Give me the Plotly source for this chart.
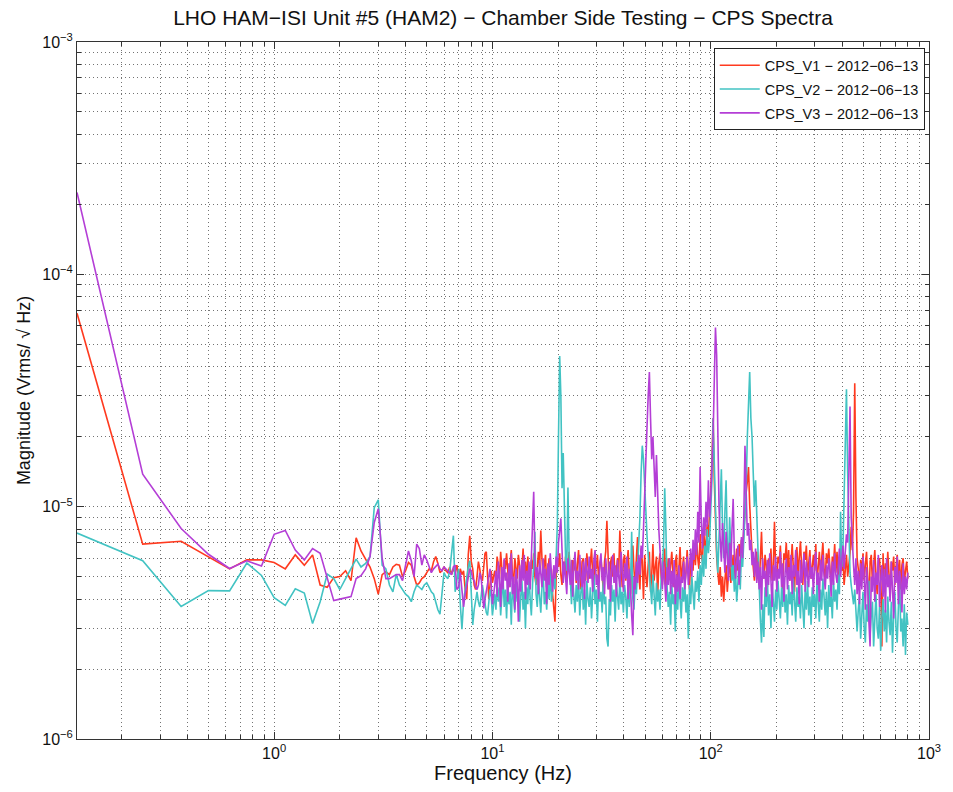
import numpy as np
import plotly.graph_objects as go

# ---------------------------------------------------------------------------
# CPS amplitude spectral densities, in micro-Vrms/sqrt(Hz)
# Low band: every 0.125 Hz bin from 0.125 Hz to 10 Hz
# High band: log-spaced samples from 10.25 Hz to 800 Hz
# ---------------------------------------------------------------------------
BIN_HZ = 0.125
HIGH_START_HZ = 10.25
HIGH_STOP_HZ = 800.0

series_names = ["CPS_V1 - 2012-06-13", "CPS_V2 - 2012-06-13", "CPS_V3 - 2012-06-13"]

v1_low = [
    68, 6.9, 7.1, 6.1, 5.4, 5.9, 5.9, 5.75, 5.4, 6.2,
    5.6, 6.2, 4.6, 4.5, 4.95, 5.0, 5.3, 4.8, 7.35, 6.45,
    5.9, 5.5, 4.9, 4.2,
    5.1, 5.25, 5.1, 5.5, 5.65, 5.6, 5.0, 5.3, 5.75, 5.6,
    5.0, 4.6, 4.7, 4.9, 5.0, 5.2, 5.4, 5.3, 5.8, 6.1,
    5.7, 5.2, 5.3, 5.5, 5.3, 5.2, 5.5, 5.1, 5.4, 5.2,
    5.6, 4.9, 5.4, 5.1, 5.3, 4.4, 4.0, 6.2, 7.5, 5.8,
    5.4, 4.6, 4.4, 5.0, 5.8, 5.4, 4.9, 4.8, 5.6, 6.3,
    6.4, 5.2, 4.0, 4.6, 5.3, 4.7,
]

v2_low = [
    7.7, 5.85, 3.72, 4.35, 4.34, 5.72, 5.06, 4.06, 3.76, 4.43,
    4.25, 3.14, 3.9, 5.13, 4.9, 4.4, 4.9, 5.4, 5.95, 5.5,
    5.7, 6.1, 9.9, 10.7,
    5.6, 5.4, 4.6, 4.3, 5.1, 4.6, 4.4, 4.2, 4.1, 3.9,
    4.3, 4.6, 4.5, 4.4, 4.6, 4.7, 4.5, 4.3, 4.2, 3.9,
    3.6, 3.45, 4.2, 5.2, 5.0, 4.9, 5.3, 6.5, 7.5, 4.3,
    4.8, 5.4, 3.8, 2.97, 3.9, 4.4, 4.9, 5.5, 5.85, 4.2,
    3.1, 3.6, 4.0, 4.3, 3.9, 3.7, 4.1, 4.6, 4.2, 3.7,
    3.5, 3.4, 3.9, 4.4, 4.1, 3.4,
]

v3_low = [
    225, 13.8, 8.05, 6.24, 5.42, 5.85, 5.55, 7.6, 7.9, 6.5,
    5.9, 6.6, 6.3, 4.9, 3.94, 4.0, 4.05, 4.1, 4.9, 5.05,
    5.4, 6.1, 8.55, 9.8,
    6.0, 4.9, 4.9, 5.0, 5.1, 5.1, 4.8, 5.6, 6.45, 5.85,
    5.0, 6.9, 6.6, 5.6, 6.2, 5.9, 5.5, 5.2, 5.4, 5.5,
    5.65, 5.4, 5.3, 5.5, 5.4, 5.3, 5.2, 5.1, 5.5, 5.6,
    4.4, 4.5, 5.2, 4.4, 3.7, 4.2, 4.6, 5.0, 5.4, 5.3,
    4.9, 4.8, 4.5, 4.4, 4.6, 5.2, 5.0, 4.2, 3.65, 4.0,
    4.3, 4.5, 5.0, 5.4, 4.6, 3.8,
]

v1_high = [
    5.3, 4.8, 6.1, 5.6, 4.9, 6.4, 5.2, 4.6, 5.9, 5.4,
    6.3, 5.0, 4.5, 5.7, 6.5, 5.1, 4.7, 6.0, 5.5, 4.9,
    6.2, 5.6, 4.4, 5.3, 6.6, 5.0, 5.8, 4.8, 6.1, 5.2,
    4.7, 5.9, 5.4, 6.3, 5.0, 4.6, 5.7, 6.4, 5.5, 7.9,
    6.0, 4.9, 5.6, 6.2, 4.5, 5.3, 6.0, 4.7, 5.4, 4.2,
    3.6, 3.2, 5.0, 6.0, 5.5, 6.3, 5.1, 4.6, 5.8, 5.2,
    6.1, 4.8, 5.5, 6.4, 5.0, 4.5, 5.9, 5.3, 6.2, 4.7,
    5.6, 6.5, 5.1, 4.4, 5.8, 6.0, 5.2, 4.8, 6.3, 5.5,
    4.9, 5.7, 6.6, 5.0, 4.6, 5.9, 5.4, 6.2, 4.8, 5.6,
    6.0, 5.1, 4.3, 5.8, 6.4, 8.7, 5.5, 4.4, 5.7, 6.1,
    5.0, 6.3, 4.7, 5.4, 6.0, 5.2, 7.9, 5.6, 4.5, 5.9,
    6.2, 4.8, 5.5, 6.5, 5.1, 4.2, 5.7, 6.8, 5.3, 4.6,
    6.0, 7.4, 5.2, 4.4, 6.6, 5.8, 4.0, 6.2, 5.0, 4.5,
    5.6, 6.4, 4.3, 5.1, 6.9, 4.8, 5.5, 6.1, 4.1, 5.7,
    6.3, 5.0, 4.6, 5.9, 6.6, 4.4, 5.3, 6.0, 4.9, 5.6,
    6.4, 5.1, 4.5, 5.8, 6.2, 4.3, 5.4, 6.7, 4.8, 5.5,
    6.1, 4.6, 5.2, 6.5, 5.0, 4.4, 5.9, 6.3, 5.3, 6.8,
    5.6, 7.2, 6.0, 5.4, 7.6, 6.2, 5.8, 8.0, 6.6, 7.1,
    8.4, 7.4, 9.5, 11.5, 16.0, 24.0, 13.0, 8.0, 6.1, 5.2,
    4.6, 5.5, 4.1, 5.0, 3.9, 4.8, 5.6, 4.3, 5.2, 6.0,
    4.7, 5.4, 6.2, 5.0, 5.8, 6.6, 5.3, 6.9, 6.1, 7.2,
    6.4, 8.2, 9.6, 11.5, 12.8, 14.8, 10.2, 7.6, 6.3, 5.5,
    4.8, 5.7, 6.4, 5.1, 4.6, 5.9, 7.8, 5.4, 4.9, 6.2,
    5.6, 4.5, 6.0, 5.2, 6.6, 4.8, 5.5, 8.6, 5.3, 4.7,
    6.1, 5.7, 6.8, 5.0, 4.4, 6.3, 5.9, 7.0, 5.2, 6.5,
    4.8, 5.6, 6.9, 5.4, 4.3, 6.2, 6.7, 5.1, 5.8, 7.1,
    5.5, 4.6, 6.4, 5.9, 6.8, 5.0, 5.7, 6.5, 4.9, 5.6,
    6.2, 5.3, 6.9, 4.7, 5.8, 6.4, 5.1, 6.0, 7.0, 5.4,
    4.8, 6.3, 5.7, 6.6, 5.0, 4.4, 6.1, 5.5, 6.9, 5.2,
    6.4, 4.9, 5.8, 6.6, 5.3, 6.0, 4.6, 5.5, 6.2, 5.0,
    5.7, 6.3, 8.2, 6.5, 9.5, 34.0, 11.0, 6.0, 5.4, 4.6,
    5.9, 5.2, 6.3, 4.8, 5.6, 6.4, 5.0, 3.4, 5.8, 6.2,
    4.7, 5.5, 6.5, 5.1, 4.2, 5.9, 6.0, 4.8, 2.5, 6.3,
    4.5, 5.7, 5.0, 6.4, 4.9, 4.1, 5.8, 5.3, 6.1, 4.6,
    5.5, 6.2, 4.8, 5.9, 4.4, 5.6, 6.0, 4.7, 5.3, 5.8,
    4.9,
]

v2_high = [
    4.2, 3.6, 4.8, 3.9, 4.5, 3.4, 4.1, 5.0, 3.7, 4.4,
    3.3, 4.6, 3.8, 4.3, 3.1, 4.7, 4.0, 3.5, 4.9, 3.9,
    4.4, 3.2, 4.1, 4.8, 3.6, 4.3, 3.0, 4.5, 3.8, 5.1,
    4.0, 3.4, 4.6, 5.6, 7.8, 4.2, 3.7, 4.9, 4.1, 3.5,
    4.5, 5.2, 3.8, 4.3, 3.6, 4.8, 4.0, 5.4, 3.9, 4.6,
    5.0, 4.4, 6.0, 8.3, 20.0, 44.5, 30.0, 12.0, 17.0, 9.0,
    6.0, 5.3, 12.1, 6.2, 4.5, 3.8, 4.9, 4.2, 3.5, 4.6,
    3.9, 5.0, 3.4, 4.3, 4.7, 3.6, 4.4, 3.1, 4.8, 4.0,
    3.7, 4.5, 3.3, 4.2, 5.1, 3.8, 4.4, 3.2, 4.6, 3.9,
    4.3, 3.5, 4.9, 3.8, 4.1, 2.7, 2.5, 4.0, 3.4, 4.6,
    3.9, 4.4, 3.2, 4.7, 4.0, 3.6, 5.0, 3.8, 4.3, 3.5,
    4.6, 4.1, 3.3, 4.8, 3.7, 4.4, 7.8, 4.0, 3.6, 4.9,
    4.2, 5.2, 6.4, 9.0, 14.0, 18.3, 16.0, 12.0, 9.0, 7.5,
    6.2, 5.4, 4.6, 3.8, 5.1, 4.2, 3.4, 4.7, 3.9, 4.4,
    3.6, 4.9, 5.5, 6.8, 12.0, 8.0, 4.5, 3.7, 4.3, 3.1,
    4.6, 3.8, 4.2, 2.9, 4.4, 3.6, 4.8, 4.0, 3.3, 4.5,
    3.9, 4.7, 3.5, 4.2, 2.7, 4.6, 3.8, 5.0, 4.1, 3.6,
    4.8, 4.3, 5.3, 3.9, 5.6, 4.6, 6.2, 5.0, 6.8, 5.4,
    8.0, 6.3, 7.2, 10.0, 13.0, 24.0, 14.0, 9.0, 6.5, 5.2,
    7.5, 10.5, 14.5, 8.0, 6.0, 9.5, 13.0, 7.0, 5.5, 9.0,
    6.2, 4.8, 5.6, 4.3, 5.2, 3.9, 4.7, 5.9, 4.4, 6.3,
    5.5, 7.2, 9.0, 12.0, 20.0, 28.0, 38.0, 24.0, 20.0, 14.0,
    10.0, 13.0, 9.0, 5.8, 4.2, 3.3, 2.6, 3.8, 2.75, 4.5,
    3.7, 4.9, 3.4, 4.2, 3.0, 4.6, 3.9, 3.2, 4.4, 3.6,
    4.8, 4.0, 3.3, 4.5, 3.7, 5.0, 3.5, 4.2, 3.1, 4.6,
    3.8, 4.3, 3.4, 4.9, 4.0, 3.2, 4.5, 3.7, 4.1, 3.3,
    4.6, 3.9, 3.0, 4.4, 3.6, 4.8, 3.4, 4.1, 3.1, 4.5,
    3.7, 4.2, 3.3, 4.7, 3.9, 3.2, 4.4, 3.6, 4.9, 3.8,
    3.4, 4.3, 3.0, 4.6, 3.7, 4.1, 3.3, 4.8, 3.9, 4.4,
    3.6, 5.1, 4.2, 9.5, 5.5, 6.5, 12.0, 22.0, 32.0, 14.0,
    7.0, 5.2, 4.6, 4.0, 3.8, 4.4, 3.3, 2.9, 3.6, 4.1,
    2.7, 3.5, 4.3, 3.0, 2.6, 3.8, 3.2, 4.8, 2.8, 3.4,
    3.9, 2.5, 3.6, 4.2, 3.0, 2.7, 3.7, 2.4, 3.3, 4.0,
    2.9, 3.6, 2.6, 4.1, 3.2, 2.8, 3.9, 2.35, 3.4, 4.3,
    3.0, 2.6, 3.7, 5.0, 2.9, 3.3, 2.5, 3.8, 2.3, 3.5,
    3.1,
]

v3_high = [
    4.6, 5.3, 4.1, 5.8, 4.9, 3.7, 5.5, 4.4, 6.0, 4.8,
    5.2, 3.9, 5.7, 4.5, 6.3, 4.2, 5.0, 3.6, 5.4, 4.7,
    3.2, 5.6, 4.3, 5.9, 4.8, 6.2, 4.0, 5.3, 4.6, 5.8,
    4.4, 6.1, 7.0, 11.6, 6.0, 4.9, 5.5, 4.2, 5.9, 5.1,
    4.5, 6.0, 4.8, 5.4, 3.8, 5.7, 4.6, 6.3, 5.0, 4.3,
    5.6, 4.9, 6.1, 5.2, 7.0, 8.0, 8.9, 6.5, 4.7, 5.8,
    5.0, 4.2, 6.0, 5.4, 4.6, 5.9, 4.1, 5.5, 6.4, 4.8,
    5.3, 4.4, 6.2, 5.0, 4.5, 5.8, 4.0, 6.0, 5.2, 4.7,
    6.1, 4.9, 5.4, 4.3, 5.9, 6.5, 4.6, 5.1, 4.0, 5.7,
    6.3, 4.8, 5.5, 4.2, 6.0, 5.0, 4.4, 5.8, 3.9, 5.3,
    6.2, 4.7, 5.6, 4.1, 5.9, 5.0, 4.5, 6.4, 5.2, 4.3,
    5.7, 4.9, 6.1, 4.0, 5.4, 4.6, 3.4, 2.8, 5.0, 4.4,
    5.8, 4.7, 6.2, 5.1, 6.8, 6.0, 8.0, 12.0, 14.0, 22.0,
    30.0, 38.0, 24.0, 16.0, 20.0, 13.0, 11.0, 16.7, 10.0, 8.0,
    6.5, 5.2, 4.4, 5.8, 4.8, 3.9, 5.5, 4.6, 6.0, 4.2,
    5.3, 4.5, 5.9, 3.8, 5.1, 4.3, 5.6, 4.0, 5.0, 4.7,
    5.8, 4.4, 5.2, 6.1, 4.6, 5.5, 6.6, 5.0, 7.2, 5.9,
    8.0, 6.2, 9.5, 7.0, 14.8, 8.5, 6.6, 9.0, 7.5, 10.5,
    8.2, 13.0, 9.0, 11.0, 14.0, 20.0, 35.0, 59.0, 45.0, 18.0,
    10.0, 7.2, 5.8, 8.5, 6.4, 5.2, 7.8, 6.0, 4.8, 7.0,
    5.5, 8.0, 10.8, 6.2, 4.9, 5.7, 6.8, 4.6, 5.9, 7.4,
    6.0, 9.0, 18.3, 10.0, 7.5, 8.5, 6.5, 7.2, 5.6, 6.4,
    5.0, 6.6, 4.7, 5.8, 4.4, 5.5, 3.6, 6.0, 4.9, 5.3,
    4.1, 5.9, 4.6, 6.3, 5.0, 3.7, 5.6, 4.8, 6.1, 4.3,
    5.4, 4.9, 6.4, 4.5, 5.7, 3.9, 5.2, 6.0, 4.4, 5.5,
    4.8, 6.2, 4.2, 5.6, 5.0, 6.5, 4.6, 5.3, 3.8, 5.9,
    4.7, 5.4, 6.3, 4.3, 5.8, 5.0, 4.5, 6.1, 4.9, 5.5,
    4.2, 5.7, 6.4, 4.6, 5.2, 3.9, 5.9, 4.8, 6.2, 5.0,
    4.4, 5.6, 4.9, 6.0, 5.3, 4.1, 5.8, 4.6, 6.3, 5.1,
    4.7, 5.5, 6.6, 5.0, 5.9, 6.8, 5.4, 6.2, 7.6, 7.0,
    12.0, 27.0, 9.0, 6.4, 5.6, 4.6, 6.0, 4.2, 5.3, 3.8,
    5.7, 4.4, 6.1, 4.9, 3.6, 5.5, 4.7, 3.2, 2.5, 5.0,
    4.3, 5.9, 3.9, 5.2, 4.6, 6.2, 3.7, 4.8, 5.6, 4.1,
    5.4, 3.5, 6.0, 4.5, 5.1, 3.9, 5.8, 4.4, 3.3, 5.5,
    4.7, 6.1, 3.8, 5.3, 4.9, 3.5, 5.7, 4.2, 5.0, 4.4,
    5.2,
]

line_colors = ["#ff3a1f", "#42c3c3", "#b43ed6"]

x_tick_vals = [1, 10, 100, 1000]
x_tick_text = ["10<sup>0</sup>", "10<sup>1</sup>", "10<sup>2</sup>", "10<sup>3</sup>"]
y_tick_vals = [1e-6, 1e-5, 1e-4, 1e-3]
y_tick_text = ["10<sup>\u22126</sup>", "10<sup>\u22125</sup>",
               "10<sup>\u22124</sup>", "10<sup>\u22123</sup>"]

# ---------------------------------------------------------------------------
FONT = "Liberation Sans, Arial, Helvetica, sans-serif"


def spectrum(low, high):
    f_low = BIN_HZ * np.arange(1, len(low) + 1)
    f_high = np.geomspace(HIGH_START_HZ, HIGH_STOP_HZ, len(high))
    freq = np.concatenate([f_low, f_high])
    amp = np.concatenate([np.asarray(low, float), np.asarray(high, float)]) * 1e-6
    return freq, amp


def minor_positions(first_decade, last_decade, lo, hi):
    vals = []
    for d in range(first_decade, last_decade + 1):
        for m in range(2, 10):
            v = m * 10.0 ** d
            if lo <= v <= hi:
                vals.append(v)
    return vals


fig = go.Figure()
for name, low, high, color in zip(series_names,
                                  [v1_low, v2_low, v3_low],
                                  [v1_high, v2_high, v3_high],
                                  line_colors):
    freq, amp = spectrum(low, high)
    fig.add_trace(go.Scatter(
        x=freq, y=amp, mode="lines", name=name.replace("-", "\u2212"),
        legendgroup=name,
        line=dict(color=color, width=1.6),
    ))

x_min, x_max = BIN_HZ, 1000.0
y_min, y_max = 1e-6, 1e-3

# sparse dotted grid on both major and minor positions
grid_style = dict(showgrid=True, gridcolor="rgba(0,0,0,0.55)", gridwidth=1, griddash="1px,3px")

fig.update_xaxes(
    type="log", range=[np.log10(x_min), np.log10(x_max)],
    tickmode="array", tickvals=x_tick_vals, ticktext=x_tick_text,
    ticks="inside", ticklen=7, tickcolor="#333", tickwidth=1,
    showline=True, linecolor="#333", linewidth=1, mirror="ticks",
    zeroline=False,
    tickfont=dict(family=FONT, size=16, color="#111"),
    title=dict(text="Frequency (Hz)", font=dict(family=FONT, size=20, color="#111"), standoff=4),
    minor=dict(tickvals=minor_positions(-1, 2, x_min, x_max), ticks="inside", ticklen=4,
               tickcolor="#333", **grid_style),
    **grid_style,
)
fig.update_yaxes(
    type="log", range=[np.log10(y_min), np.log10(y_max)],
    tickmode="array", tickvals=y_tick_vals, ticktext=y_tick_text,
    ticks="inside", ticklen=7, tickcolor="#333", tickwidth=1,
    showline=True, linecolor="#333", linewidth=1, mirror="ticks",
    zeroline=False,
    tickfont=dict(family=FONT, size=16, color="#111"),
    title=dict(text="Magnitude (Vrms/ \u221a Hz)", font=dict(family=FONT, size=18, color="#111"), standoff=6),
    minor=dict(tickvals=minor_positions(-6, -4, y_min, y_max), ticks="inside", ticklen=4,
               tickcolor="#333", **grid_style),
    **grid_style,
)

fig.update_layout(
    width=953, height=792,
    margin=dict(l=77, r=17, t=42, b=52),
    paper_bgcolor="white", plot_bgcolor="white",
    font=dict(family=FONT, color="#111"),
    title=dict(
        text="LHO HAM\u2212ISI Unit #5 (HAM2) \u2212 Chamber Side Testing \u2212 CPS Spectra",
        font=dict(family=FONT, size=21, color="#111"),
        x=0.5, xref="paper", xanchor="center",
        y=1 - 18 / 792, yref="container", yanchor="middle",
    ),
    legend=dict(
        x=0.995, y=0.991, xanchor="right", yanchor="top",
        bgcolor="white", bordercolor="#222", borderwidth=1,
        font=dict(family=FONT, size=14.5, color="#111"),
        itemwidth=40, tracegroupgap=2,
    ),
    showlegend=True,
)

fig.write_html("out.html")
